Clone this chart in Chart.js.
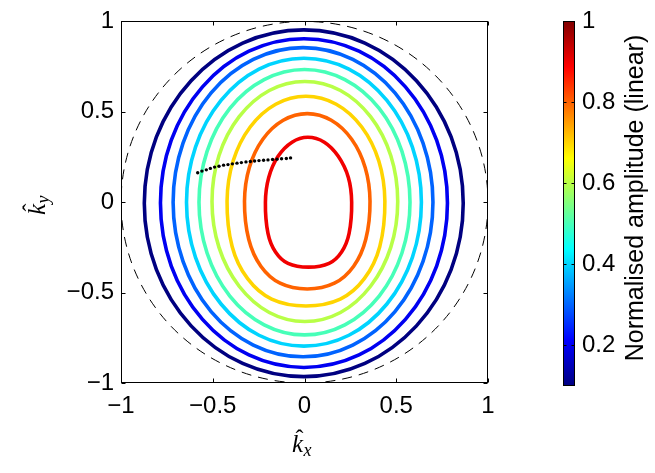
<!DOCTYPE html>
<html>
<head>
<meta charset="utf-8">
<script src="https://cdn.jsdelivr.net/npm/chart.js@4.4.1/dist/chart.umd.min.js"></script>
<style>
  html, body { margin: 0; padding: 0; background: #fff; }
  #wrap { position: relative; width: 655px; height: 473px; }
  #main { position: absolute; left: 0; top: 0; }
  #cbar { position: absolute; left: 540px; top: 0; }
</style>
</head>
<body>
<div id="wrap">
  <canvas id="main" width="540" height="473"></canvas>
  <canvas id="cbar" width="115" height="473"></canvas>
</div>
<script>
// contour levels (normalised amplitude) and their jet colours
const LEVELS = [0.1, 0.2, 0.3, 0.4, 0.5, 0.6, 0.7, 0.8, 0.9];
const LEVEL_COLORS = ['#000080', '#0000F1', '#0063FF', '#00D4FF', '#47FFB8',
                      '#B8FF47', '#FFD400', '#FF6300', '#F10000'];

// contour outlines, clockwise from the top, [kx, ky]
const C_010 = [[-0.004, 0.953], [0.329, 0.880], [0.610, 0.672], [0.799, 0.361], [0.865, -0.006], [0.799, -0.373],
               [0.610, -0.684], [0.329, -0.892], [-0.004, -0.965], [-0.337, -0.892], [-0.618, -0.684], [-0.807, -0.373],
               [-0.873, -0.006], [-0.807, 0.361], [-0.618, 0.672], [-0.337, 0.880]];
const C_020 = [[-0.003, 0.904], [0.297, 0.835], [0.550, 0.638], [0.720, 0.343], [0.779, -0.005], [0.720, -0.353],
               [0.550, -0.648], [0.297, -0.845], [-0.003, -0.914], [-0.303, -0.845], [-0.556, -0.648], [-0.726, -0.353],
               [-0.785, -0.005], [-0.726, 0.343], [-0.556, 0.638], [-0.303, 0.835]];
const C_030 = [[-0.008, 0.855], [0.263, 0.790], [0.493, 0.605], [0.646, 0.327], [0.700, 0], [0.646, -0.327],
               [0.493, -0.605], [0.263, -0.790], [-0.008, -0.855], [-0.279, -0.790], [-0.509, -0.605], [-0.662, -0.327],
               [-0.716, 0], [-0.662, 0.327], [-0.509, 0.605], [-0.279, 0.790]];
const C_040 = [[-0.003, 0.796], [0.242, 0.736], [0.449, 0.563], [0.588, 0.305], [0.637, 0], [0.588, -0.305],
               [0.449, -0.563], [0.242, -0.736], [-0.003, -0.796], [-0.248, -0.736], [-0.455, -0.563], [-0.594, -0.305],
               [-0.643, 0], [-0.594, 0.305], [-0.455, 0.563], [-0.248, 0.736]];
const C_050 = [[0, 0.734], [0.220, 0.678], [0.407, 0.519], [0.531, 0.281], [0.575, 0], [0.531, -0.281],
               [0.407, -0.519], [0.220, -0.678], [0, -0.734], [-0.220, -0.678], [-0.407, -0.519], [-0.531, -0.281],
               [-0.575, 0], [-0.531, 0.281], [-0.407, 0.519], [-0.220, 0.678]];
const C_060 = [[0.002, 0.668], [0.196, 0.618], [0.360, 0.473], [0.470, 0.258], [0.508, 0.004], [0.470, -0.250],
               [0.360, -0.465], [0.196, -0.610], [0.002, -0.660], [-0.192, -0.610], [-0.356, -0.465], [-0.466, -0.250],
               [-0.504, 0.004], [-0.466, 0.258], [-0.356, 0.473], [-0.192, 0.618]];
const C_070 = [[0.008, 0.586], [0.173, 0.542], [0.312, 0.416], [0.405, 0.228], [0.438, 0.006], [0.410, -0.246],
               [0.326, -0.423], [0.195, -0.536], [0.008, -0.574], [-0.179, -0.536], [-0.310, -0.423], [-0.394, -0.246],
               [-0.422, 0.006], [-0.389, 0.228], [-0.296, 0.416], [-0.157, 0.542]];
const C_080 = [[0.015, 0.490], [0.146, 0.453], [0.257, 0.348], [0.331, 0.191], [0.357, 0.005], [0.334, -0.205],
               [0.268, -0.354], [0.163, -0.448], [0.015, -0.480], [-0.133, -0.448], [-0.238, -0.354], [-0.304, -0.205],
               [-0.327, 0.005], [-0.301, 0.191], [-0.227, 0.348], [-0.116, 0.453]];
const C_090 = [[0.018, 0.359], [0.108, 0.332], [0.184, 0.254], [0.239, 0.137], [0.257, 0], [0.243, -0.172],
               [0.202, -0.275], [0.134, -0.338], [0.022, -0.359], [-0.090, -0.338], [-0.158, -0.275], [-0.199, -0.172],
               [-0.213, 0], [-0.195, 0.137], [-0.144, 0.254], [-0.068, 0.332]];
const CONTOURS = [C_010, C_020, C_030, C_040, C_050, C_060, C_070, C_080, C_090];

// black dotted track
const TRACK_KX = [-0.582, -0.559, -0.535, -0.513, -0.490, -0.466, -0.441, -0.417, -0.393, -0.368, -0.344,
                  -0.319, -0.295, -0.272, -0.248, -0.223, -0.199, -0.174, -0.150, -0.125, -0.099, -0.076];
const TRACK_KY = [0.163, 0.172, 0.179, 0.187, 0.194, 0.199, 0.205, 0.208, 0.212, 0.216, 0.219,
                  0.223, 0.225, 0.228, 0.230, 0.232, 0.234, 0.236, 0.238, 0.240, 0.242, 0.245];

const AXIS_TICKS = [-1, -0.5, 0, 0.5, 1];
const CBAR_TICKS = [0.2, 0.4, 0.6, 0.8, 1];
const CBAR_MIN = 0.1;
const CBAR_MAX = 1;
const CIRCLE_R = 1;

// jet colormap stops
const JET_STOPS = [[0, '#000080'], [0.125, '#0000FF'], [0.375, '#00FFFF'],
                   [0.625, '#FFFF00'], [0.875, '#FF0000'], [1, '#800000']];

const FONT = "'Liberation Sans', Arial, Helvetica, sans-serif";
Chart.defaults.font.family = FONT;
Chart.defaults.color = '#000';

function fmt(v) {
  return v < 0 ? '\u2212' + Math.abs(v) : String(v);
}

// closed curve: wrap one point on each side so the spline joins smoothly
function loopData(pts) {
  const seq = [pts[pts.length - 1], ...pts, pts[0], pts[1]];
  return seq.map(([x, y]) => ({ x: x, y: y }));
}

function hatLabel(ctx, sub, px, py, angle) {
  ctx.save();
  ctx.translate(px, py);
  ctx.rotate(angle);
  ctx.fillStyle = '#000';
  ctx.textBaseline = 'alphabetic';
  ctx.textAlign = 'left';
  ctx.font = "italic 25px 'Liberation Serif'";
  ctx.fillText('k', 0, 0);
  const w = ctx.measureText('k').width;
  ctx.textAlign = 'center';
  ctx.font = "24px 'Liberation Serif'";
  ctx.fillText('\u02C6', w / 2 + 2, -6);
  ctx.textAlign = 'left';
  ctx.font = "italic 18px 'Liberation Serif'";
  ctx.fillText(sub, w + 0.5, 4);
  ctx.restore();
}

const framePlugin = {
  id: 'frame',
  beforeDatasetsDraw(chart) {
    const { ctx, chartArea: a, scales: { x, y } } = chart;
    const cx = x.getPixelForValue(0), cy = y.getPixelForValue(0);
    ctx.save();
    ctx.beginPath();
    ctx.rect(a.left, a.top, a.width, a.height);
    ctx.clip();
    ctx.setLineDash([10, 7]);
    ctx.lineWidth = 1;
    ctx.strokeStyle = '#000';
    ctx.beginPath();
    ctx.ellipse(cx, cy, x.getPixelForValue(CIRCLE_R) - cx, cy - y.getPixelForValue(CIRCLE_R), 0, 0, Math.PI * 2);
    ctx.stroke();
    ctx.restore();
  },
  afterDraw(chart) {
    const { ctx, chartArea: a, scales: { x, y } } = chart;
    const L = Math.round(a.left) + 0.5, R = Math.round(a.right) - 0.5;
    const T = Math.round(a.top) + 0.5, B = Math.round(a.bottom) - 0.5;
    ctx.save();
    ctx.strokeStyle = '#000';
    ctx.lineWidth = 1;
    ctx.strokeRect(L, T, R - L, B - T);
    ctx.beginPath();
    AXIS_TICKS.forEach(v => {
      const px = Math.round(x.getPixelForValue(v)) + 0.5;
      ctx.moveTo(px, B); ctx.lineTo(px, B - 4);
      ctx.moveTo(px, T); ctx.lineTo(px, T + 4);
      const py = Math.round(y.getPixelForValue(v)) + 0.5;
      ctx.moveTo(L, py); ctx.lineTo(L + 4, py);
      ctx.moveTo(R, py); ctx.lineTo(R - 4, py);
    });
    ctx.stroke();
    ctx.restore();
    hatLabel(ctx, 'x', 292, 452, 0);
    hatLabel(ctx, 'y', 45, 215, -Math.PI / 2);
  }
};

const contourSets = CONTOURS.map((pts, i) => {
  const n = pts.length + 3;
  return {
    label: 'A = ' + LEVELS[i],
    data: loopData(pts),
    showLine: true,
    borderColor: LEVEL_COLORS[i],
    borderWidth: 3.6,
    pointRadius: 0,
    tension: 0.34,
    order: 1,
    segment: {
      borderColor: c => (c.p0DataIndex === 0 || c.p1DataIndex === n - 1) ? 'transparent' : undefined
    }
  };
});

new Chart(document.getElementById('main'), {
  type: 'scatter',
  data: {
    datasets: [{
      label: 'track',
      data: TRACK_KX.map((v, i) => ({ x: v, y: TRACK_KY[i] })),
      pointRadius: 1.7,
      pointBackgroundColor: '#000',
      pointBorderWidth: 0,
      showLine: false,
      order: 0
    }, ...contourSets]
  },
  options: {
    responsive: false,
    animation: false,
    devicePixelRatio: 1,
    layout: { padding: { top: 17, right: 52, left: 0, bottom: 0 } },
    plugins: { legend: { display: false }, tooltip: { enabled: false } },
    scales: {
      x: {
        type: 'linear', min: -1, max: 1,
        afterBuildTicks: s => { s.ticks = AXIS_TICKS.map(v => ({ value: v })); },
        afterFit: s => { s.height = 90; },
        grid: { display: false, drawTicks: false },
        border: { display: false },
        ticks: { callback: fmt, font: { size: 24 }, color: '#000', padding: 9, maxRotation: 0, autoSkip: false }
      },
      y: {
        type: 'linear', min: -1, max: 1,
        afterBuildTicks: s => { s.ticks = AXIS_TICKS.map(v => ({ value: v })); },
        afterFit: s => { s.width = 121; },
        grid: { display: false, drawTicks: false },
        border: { display: false },
        ticks: { callback: fmt, font: { size: 24 }, color: '#000', padding: 7, autoSkip: false }
      }
    }
  },
  plugins: [framePlugin]
});

const cbarPlugin = {
  id: 'cbarFrame',
  afterDraw(chart) {
    const { ctx, chartArea: a, scales: { y } } = chart;
    const L = Math.round(a.left) + 0.5, R = Math.round(a.right) - 0.5;
    const T = Math.round(a.top) + 0.5, B = Math.round(a.bottom) - 0.5;
    ctx.save();
    ctx.strokeStyle = '#000';
    ctx.lineWidth = 1;
    ctx.strokeRect(L, T, R - L, B - T);
    ctx.beginPath();
    CBAR_TICKS.forEach(v => {
      const py = Math.round(y.getPixelForValue(v)) + 0.5;
      ctx.moveTo(L, py); ctx.lineTo(L + 3, py);
      ctx.moveTo(R, py); ctx.lineTo(R - 3, py);
    });
    ctx.stroke();
    ctx.translate(96, 198);
    ctx.rotate(-Math.PI / 2);
    ctx.fillStyle = '#000';
    ctx.font = '25px ' + FONT;
    ctx.textAlign = 'center';
    ctx.textBaseline = 'middle';
    ctx.fillText('Normalised amplitude (linear)', 0, 0);
    ctx.restore();
  }
};

new Chart(document.getElementById('cbar'), {
  type: 'bar',
  data: {
    labels: [''],
    datasets: [{
      data: [[CBAR_MIN, CBAR_MAX]],
      borderWidth: 0,
      barPercentage: 1,
      categoryPercentage: 1,
      backgroundColor: c => {
        const chart = c.chart;
        if (!chart.chartArea) return '#000080';
        const ys = chart.scales.y;
        const g = chart.ctx.createLinearGradient(0, ys.getPixelForValue(CBAR_MIN), 0, ys.getPixelForValue(CBAR_MAX));
        JET_STOPS.forEach(([t, col]) => g.addColorStop(t, col));
        return g;
      }
    }]
  },
  options: {
    responsive: false,
    animation: false,
    devicePixelRatio: 1,
    layout: { padding: { top: 18, right: 0, left: 23, bottom: 87 } },
    plugins: { legend: { display: false }, tooltip: { enabled: false } },
    scales: {
      x: { display: false },
      y: {
        position: 'right', min: CBAR_MIN, max: CBAR_MAX,
        afterBuildTicks: s => { s.ticks = CBAR_TICKS.map(v => ({ value: v })); },
        afterFit: s => { s.width = 80; },
        grid: { display: false, drawTicks: false },
        border: { display: false },
        ticks: { callback: fmt, font: { size: 24 }, color: '#000', padding: 7, autoSkip: false }
      }
    }
  },
  plugins: [cbarPlugin]
});
</script>
</body>
</html>
